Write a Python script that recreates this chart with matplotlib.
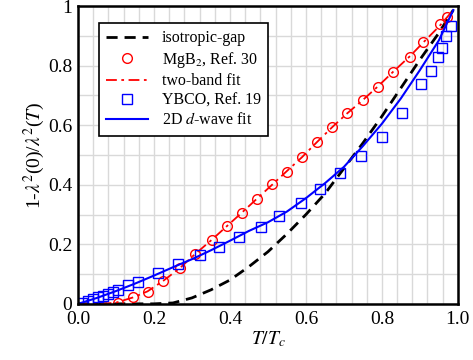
import numpy as np
import matplotlib.pyplot as plt
from matplotlib.ticker import MultipleLocator

plt.rcParams['font.family'] = ['Liberation Serif', 'DejaVu Serif']
plt.rcParams['mathtext.fontset'] = 'stix'

# isotropic-gap curve
iso_t = [0, 0.1, 0.2, 0.25, 0.3, 0.35, 0.4, 0.45, 0.5, 0.55, 0.6, 0.65,
         0.7, 0.75, 0.8, 0.85, 0.9, 0.95, 0.988]
iso_v = [0, 0, 0.0, 0.003, 0.02, 0.047, 0.08, 0.125, 0.175, 0.235, 0.30,
         0.37, 0.455, 0.54, 0.63, 0.725, 0.82, 0.91, 0.987]

# MgB2 data
mgb2_t = [0.106, 0.146, 0.183, 0.224, 0.268, 0.308, 0.352, 0.391, 0.431,
          0.470, 0.511, 0.549, 0.590, 0.628, 0.668, 0.707, 0.751, 0.790,
          0.830, 0.874, 0.909, 0.953, 0.972]
mgb2_v = [0.004, 0.022, 0.041, 0.077, 0.120, 0.168, 0.215, 0.262, 0.306,
          0.351, 0.402, 0.444, 0.492, 0.545, 0.595, 0.640, 0.685, 0.729,
          0.779, 0.830, 0.880, 0.940, 0.965]

# two-band fit
tb_t = [0.0, 0.06, 0.1, 0.146, 0.183, 0.224, 0.268, 0.308, 0.352, 0.391,
        0.431, 0.470, 0.511, 0.549, 0.590, 0.628, 0.668, 0.707, 0.751,
        0.790, 0.830, 0.874, 0.909, 0.953, 0.988]
tb_v = [0.0, 0.0, 0.004, 0.022, 0.042, 0.077, 0.120, 0.167, 0.215, 0.260,
        0.306, 0.352, 0.400, 0.445, 0.493, 0.542, 0.592, 0.638, 0.686,
        0.731, 0.780, 0.832, 0.878, 0.935, 0.987]

# YBCO data
ybco_t = [0.010, 0.026, 0.040, 0.053, 0.067, 0.080, 0.093, 0.104, 0.132,
          0.159, 0.211, 0.264, 0.321, 0.371, 0.425, 0.481, 0.530, 0.587,
          0.637, 0.689, 0.746, 0.799, 0.852, 0.904, 0.928, 0.948, 0.957,
          0.970, 0.981]
ybco_v = [0.004, 0.010, 0.016, 0.022, 0.028, 0.034, 0.039, 0.045, 0.064,
          0.075, 0.103, 0.134, 0.164, 0.192, 0.226, 0.257, 0.296, 0.338,
          0.386, 0.439, 0.495, 0.561, 0.642, 0.737, 0.783, 0.830, 0.861,
          0.899, 0.933]

# 2D d-wave fit
dw_t = [0, 0.05, 0.1, 0.15, 0.2, 0.25, 0.3, 0.35, 0.4, 0.45, 0.5, 0.55,
        0.6, 0.65, 0.7, 0.75, 0.8, 0.85, 0.9, 0.95, 0.988]
dw_v = [0.0, 0.02, 0.043, 0.068, 0.095, 0.123, 0.15, 0.18, 0.212, 0.245,
        0.274, 0.31, 0.355, 0.405, 0.46, 0.53, 0.605, 0.69, 0.785, 0.885,
        0.987]

xticks = [0.0, 0.2, 0.4, 0.6, 0.8, 1.0]
xlabels = ['0.0', '0.2', '0.4', '0.6', '0.8', '1.0']
yticks = [0.0, 0.2, 0.4, 0.6, 0.8, 1.0]
ylabels = ['0', '0.2', '0.4', '0.6', '0.8', '1']

fig = plt.figure(figsize=(4.73, 3.6), dpi=100)
ax = fig.add_axes([0.165, 0.156, 0.803, 0.827])

ax.plot(iso_t, iso_v, color='black', ls=(0, (4, 2.5)), lw=2, label='isotropic-gap')
ax.plot(mgb2_t, mgb2_v, 'o', mfc='none', mec='red', ms=7, mew=1, label=r'MgB$_2$, Ref. 30')
ax.plot(tb_t, tb_v, color='red', ls=(0, (6, 2.5, 1.5, 2.5)), lw=1.3, label='two-band fit')
ax.plot(ybco_t, ybco_v, 's', mfc='none', mec='blue', ms=6.5, mew=1, label='YBCO, Ref. 19')
ax.plot(dw_t, dw_v, color='blue', lw=1.5, label=r'2D $d$-wave fit')

ax.set_xlim(0, 1)
ax.set_ylim(0, 1)
ax.set_xticks(xticks, labels=xlabels)
ax.set_yticks(yticks, labels=ylabels)
ax.xaxis.set_minor_locator(MultipleLocator(0.04))
ax.yaxis.set_minor_locator(MultipleLocator(0.1))
ax.grid(which='both', color='#d9d9d9', lw=1)
ax.set_axisbelow(True)
ax.tick_params(which='both', length=0, labelsize=14)
ax.tick_params(axis='x', pad=5)
ax.tick_params(axis='y', pad=4)
for s in ax.spines.values():
    s.set_linewidth(1.8)

ax.set_xlabel(r'$T/T_c$', fontsize=14, labelpad=1)
ax.set_ylabel(r'1-$\lambda^2$(0)/$\lambda^2$($T$)', fontsize=14, labelpad=1)

leg = ax.legend(loc='upper left', bbox_to_anchor=(0.055, 0.943), borderaxespad=0,
                fontsize=11.5, frameon=True, fancybox=False, edgecolor='black',
                framealpha=1, handlelength=2.6, borderpad=0.45, labelspacing=0.22,
                handletextpad=0.9)
leg.get_frame().set_linewidth(1.2)

fig.savefig('out.png', dpi=100)
